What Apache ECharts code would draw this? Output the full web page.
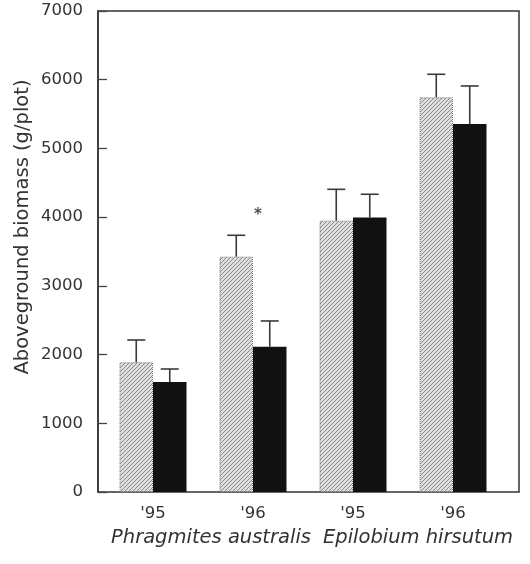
<!DOCTYPE html>
<html>
<head>
<meta charset="utf-8">
<style>
  html, body { margin: 0; padding: 0; background: #fff; }
  #chart { width: 530px; height: 564px; }
</style>
<script src="https://cdn.jsdelivr.net/npm/echarts@6/dist/echarts.min.js"></script>
</head>
<body>
<div id="chart"></div>
<script>
// Aboveground biomass per plot, two treatments, two species, two years
const categories = ["'95", "'96", "'95", "'96"];
const species = ['Phragmites australis', 'Epilobium hirsutum'];
const hatchedValues = [1888, 3425, 3949, 5744];
const hatchedErrors = [324, 311, 456, 335];
const solidValues = [1600, 2115, 3993, 5356];
const solidErrors = [190, 374, 340, 553];
// significance marker: category index and height
const markerAt = [1, 4090];
const yTicks = { min: 0, max: 7000, interval: 1000 };

const FONT = '"DejaVu Sans", "Liberation Sans", Arial, sans-serif';
const BAR_FRAC = 0.335; // bar width as a share of the category band

// diagonal hatch fill
function makeHatch() {
  const c = document.createElement('canvas');
  c.width = 4; c.height = 4;
  const g = c.getContext('2d');
  g.fillStyle = '#dedede';
  g.fillRect(0, 0, 4, 4);
  g.strokeStyle = '#8c8c8c';
  g.lineWidth = 1;
  g.beginPath();
  g.moveTo(-1, 5); g.lineTo(5, -1);
  g.moveTo(-1, 1); g.lineTo(1, -1);
  g.moveTo(3, 5); g.lineTo(5, 3);
  g.stroke();
  return c;
}

function errorSeries(values, errors, side) {
  return {
    type: 'custom',
    xAxisIndex: 1, yAxisIndex: 1,
    z: 5,
    data: values.map((v, i) => [i, v, v + errors[i]]),
    renderItem: function (params, api) {
      const band = api.size([1, 0])[0];
      const off = side * band * BAR_FRAC / 2;
      const base = api.coord([api.value(0), api.value(1)]);
      const top = api.coord([api.value(0), api.value(2)]);
      const x = base[0] + off;
      const half = 9;
      const style = { stroke: '#3a3a3a', lineWidth: 1.6 };
      return {
        type: 'group',
        children: [
          { type: 'line', shape: { x1: x, y1: base[1], x2: x, y2: top[1] }, style: style },
          { type: 'line', shape: { x1: x - half, y1: top[1], x2: x + half, y2: top[1] }, style: style }
        ]
      };
    }
  };
}

const chart = echarts.init(document.getElementById('chart'));
chart.setOption({
  animation: false,
  backgroundColor: '#fff',
  grid: [
    { left: 98, top: 11, width: 421, height: 481, show: true, borderColor: '#333', borderWidth: 1.5, backgroundColor: 'transparent' },
    { left: 103, top: 11, width: 400, height: 481 }
  ],
  xAxis: [
    { type: 'value', gridIndex: 0, show: false, min: 0, max: 1 },
    {
      type: 'category', gridIndex: 1, data: categories,
      axisLine: { show: false }, axisTick: { show: false },
      axisLabel: { margin: 13, fontFamily: FONT, fontSize: 16.5, color: '#333' }
    }
  ],
  yAxis: [
    {
      type: 'value', gridIndex: 0,
      min: yTicks.min, max: yTicks.max, interval: yTicks.interval,
      splitLine: { show: false },
      axisLine: { show: true, lineStyle: { color: '#333', width: 1.5 } },
      axisTick: { show: true, inside: true, length: 9, lineStyle: { color: '#444', width: 1.3 } },
      axisLabel: { margin: 15, fontFamily: FONT, fontSize: 16.5, color: '#333', formatter: v => String(v) }
    },
    { type: 'value', gridIndex: 1, min: yTicks.min, max: yTicks.max, show: false }
  ],
  graphic: [
    {
      type: 'text', x: 23, y: 227, rotation: Math.PI / 2,
      style: { text: 'Aboveground biomass (g/plot)', fontFamily: FONT, fontSize: 19.5, fill: '#333', align: 'center', verticalAlign: 'middle' }
    },
    {
      type: 'text', x: 211, y: 538,
      style: { text: species[0], fontFamily: FONT, fontSize: 19.5, fontStyle: 'italic', fill: '#333', align: 'center', verticalAlign: 'middle' }
    },
    {
      type: 'text', x: 418, y: 538,
      style: { text: species[1], fontFamily: FONT, fontSize: 19.5, fontStyle: 'italic', fill: '#333', align: 'center', verticalAlign: 'middle' }
    }
  ],
  series: [
    {
      type: 'bar', xAxisIndex: 1, yAxisIndex: 1,
      data: hatchedValues,
      barWidth: (BAR_FRAC * 100) + '%', barGap: '0%',
      itemStyle: {
        color: { image: makeHatch(), repeat: 'repeat' },
        borderColor: '#777', borderWidth: 1, borderType: 'dotted'
      }
    },
    {
      type: 'bar', xAxisIndex: 1, yAxisIndex: 1,
      data: solidValues,
      barWidth: (BAR_FRAC * 100) + '%', barGap: '0%',
      itemStyle: { color: '#111' }
    },
    errorSeries(hatchedValues, hatchedErrors, -1),
    errorSeries(solidValues, solidErrors, 1),
    {
      type: 'scatter', xAxisIndex: 1, yAxisIndex: 1,
      data: [markerAt], symbolSize: 0,
      label: { show: true, formatter: '*', position: 'inside', offset: [5, 4], fontFamily: FONT, fontSize: 15, fontWeight: 'bold', color: '#222' }
    }
  ]
});
</script>
</body>
</html>
